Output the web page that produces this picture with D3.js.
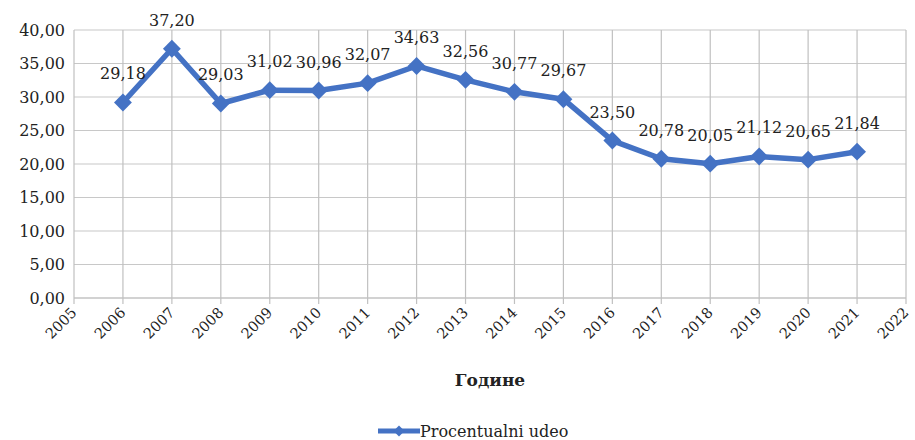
<!DOCTYPE html>
<html>
<head>
<meta charset="utf-8">
<script src="https://cdn.jsdelivr.net/npm/d3@7/dist/d3.min.js"></script>
<style>
  body { margin: 0; background: #fff; }
  svg { display: block; }
  svg text { font-family: "DejaVu Serif", "Liberation Serif", serif; }
</style>
</head>
<body>
<svg id="chart" width="915" height="440"></svg>
<script>
// Percentage share by year
const years = [2006, 2007, 2008, 2009, 2010, 2011, 2012, 2013, 2014, 2015, 2016, 2017, 2018, 2019, 2020, 2021];
const values = [29.18, 37.20, 29.03, 31.02, 30.96, 32.07, 34.63, 32.56, 30.77, 29.67, 23.50, 20.78, 20.05, 21.12, 20.65, 21.84];
const yTicks = [0, 5, 10, 15, 20, 25, 30, 35, 40];
const xTicks = d3.range(2005, 2023);
const seriesName = "Procentualni udeo";
const xTitle = "Године";

const fmt = v => v.toFixed(2).replace(".", ",");
const blue = "#4472C4";

const svg = d3.select("#chart");
const root = svg.append("g");
const margin = { left: 74, right: 9, top: 30, bottom: 142 };
const W = 915, H = 440;

const x = d3.scaleLinear().domain([2005, 2022]).range([margin.left, W - margin.right]);
const y = d3.scaleLinear().domain([0, 40]).range([H - margin.bottom, margin.top]);

// gridlines
root.append("g").selectAll("line").data(yTicks).join("line")
  .attr("x1", x(2005)).attr("x2", x(2022))
  .attr("y1", d => y(d)).attr("y2", d => y(d))
  .attr("stroke", d => d === 0 ? "#a6a6a6" : "#c8c8c8").attr("stroke-width", 1.2);
root.append("g").selectAll("line").data(xTicks).join("line")
  .attr("x1", d => x(d)).attr("x2", d => x(d))
  .attr("y1", y(40)).attr("y2", y(0) + 6)
  .attr("stroke", "#c0c0c0").attr("stroke-width", 1.2);

// y axis labels
root.append("g").selectAll("text").data(yTicks).join("text")
  .attr("x", x(2005) - 9).attr("y", d => y(d))
  .attr("dy", "0.35em").attr("text-anchor", "end")
  .attr("font-size", 16).attr("fill", "#222")
  .text(fmt);

// x axis labels, rotated
root.append("g").selectAll("text").data(xTicks).join("text")
  .attr("transform", d => `translate(${x(d)},${y(0) + 12}) rotate(-45)`)
  .attr("text-anchor", "end").attr("dy", "0.35em")
  .attr("font-size", 14.5).attr("fill", "#222")
  .text(d => d);

// axis title
root.append("text")
  .attr("x", (x(2005) + x(2022)) / 2).attr("y", 386)
  .attr("text-anchor", "middle").attr("font-weight", "bold")
  .attr("font-size", 17).attr("fill", "#222")
  .text(xTitle);

// line
const pts = years.map((yr, i) => ({ yr, v: values[i] }));
root.append("path").datum(pts)
  .attr("d", d3.line().x(d => x(d.yr)).y(d => y(d.v)))
  .attr("fill", "none").attr("stroke", blue).attr("stroke-width", 5.5)
  .attr("stroke-linejoin", "round");

// diamond markers
root.append("g").selectAll("path").data(pts).join("path")
  .attr("transform", d => `translate(${x(d.yr)},${y(d.v)}) rotate(45)`)
  .attr("d", d3.symbol().type(d3.symbolSquare).size(160))
  .attr("fill", blue);

// data labels
root.append("g").selectAll("text").data(pts).join("text")
  .attr("x", d => x(d.yr)).attr("y", d => y(d.v) - 23)
  .attr("text-anchor", "middle")
  .attr("font-size", 16).attr("fill", "#222")
  .text(d => fmt(d.v));

// legend
const lg = root.append("g").attr("transform", "translate(378,431)");
lg.append("line").attr("x1", 0).attr("x2", 42).attr("y1", 0).attr("y2", 0)
  .attr("stroke", blue).attr("stroke-width", 5);
lg.append("path").attr("transform", "translate(21,0) rotate(45)")
  .attr("d", d3.symbol().type(d3.symbolSquare).size(60)).attr("fill", blue);
lg.append("text")
  .attr("x", 42).attr("y", 0).attr("dy", "0.35em")
  .attr("font-size", 16).attr("fill", "#222").text(seriesName);
</script>
</body>
</html>
